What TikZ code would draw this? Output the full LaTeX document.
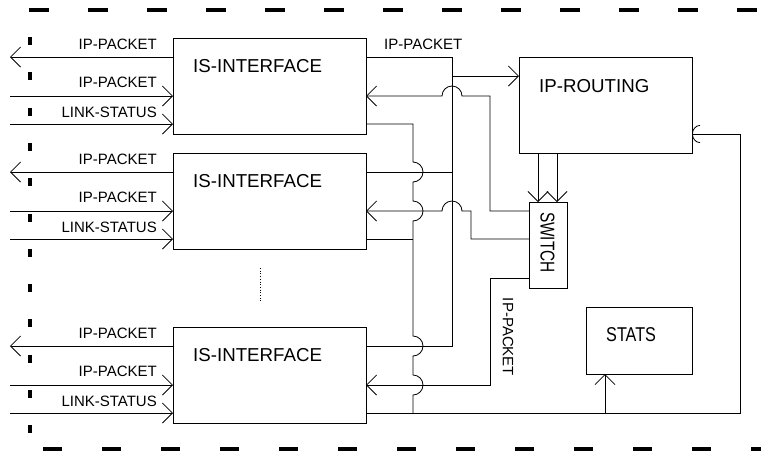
\documentclass[tikz,border=0pt]{standalone}
\usepackage{fontspec}
\usepackage{graphicx}
\setmainfont{Liberation Sans}
\usetikzlibrary{arrows.meta}
\begin{document}
\begin{tikzpicture}[x=1pt,y=-1pt,
  ln/.style={line width=0.8pt},
  arr/.style={ln,-{Straight Barb[length=10pt,width=20pt]}},
  boxn/.style={draw,line width=0.8pt,inner sep=0pt,outer sep=0pt,anchor=north west},
  small/.style={font=\fontsize{15}{18}\selectfont,inner sep=0pt},
  big/.style={font=\fontsize{18.7}{22}\selectfont,inner sep=0pt},
  huge/.style={font=\fontsize{20}{24}\selectfont,inner sep=0pt},
  frame/.style={line width=3.5pt}]
\useasboundingbox (0,0) rectangle (761,451);

% frame dashes
\draw[frame,dash pattern=on 20pt off 39pt] (29,10) -- (761,10);
\draw[frame,dash pattern=on 19pt off 40pt] (43,449) -- (761,449);
\draw[frame,dash pattern=on 8pt off 27.3pt] (30,37) -- (30,433);

% interface boxes and left connectors
\foreach \t/\n in {38/1,153/2,327/3} {
  \node[boxn,minimum width=193pt,minimum height=96pt] (if\n) at (173,\t) {};
  \node[big,anchor=base west] (ifl\n) at (193,\t+34) {IS-INTERFACE};
  \coordinate (lo\n) at (10,\t+19);
  \coordinate (li\n) at (10,\t+58);
  \coordinate (ls\n) at (10,\t+86);
  \draw[arr] (if\n.west |- lo\n) -- (lo\n);
  \draw[arr] (li\n) -- (if\n.west |- li\n);
  \draw[arr] (ls\n) -- (if\n.west |- ls\n);
  \node[small,anchor=base east] at (157,\t+11) {IP-PACKET};
  \node[small,anchor=base east] at (157,\t+49) {IP-PACKET};
  \node[small,anchor=base east] at (157,\t+79) {LINK-STATUS};
}

% other boxes
\node[boxn,minimum width=173pt,minimum height=96pt] (rt) at (519,57) {};
\node[big,anchor=base west] at (539,92) {IP-ROUTING};
\node[boxn,minimum width=38pt,minimum height=86pt] (sw) at (529,202) {};
\node[huge,rotate=-90] at (547.5,242.5) {\scalebox{0.77}[1]{SWITCH}};
\node[boxn,minimum width=106pt,minimum height=67pt] (st) at (586,307) {};
\node[huge,anchor=base west] at (606,341) {\scalebox{0.81}[1]{STATS}};

% dotted ellipsis
\draw[line width=0.7pt,dotted] (260,268) -- (260,303);

% bus of outgoing packets
\draw[ln] (366,57) -- (452,57) -- (452,346) -- (366,346);
\draw[ln] (366,172) -- (452,172);
\draw[arr] (452,76) -- (rt.west |- 0,76);
\node[small,anchor=base west] at (384,49) {IP-PACKET};

% packets from switch back to interfaces
\draw[arr] (sw.west |- 0,211) -- (490,211) -- (490,96) -- (462,96)
  arc[start angle=0,end angle=180,radius=10pt] -- (if1.east |- 0,96);
\draw[arr] (sw.west |- 0,239) -- (471,239) -- (471,211) -- (462,211)
  arc[start angle=0,end angle=180,radius=10pt] -- (if2.east |- 0,211);
\draw[arr] (sw.west |- 0,278) -- (490,278) -- (490,385) -- (if3.east |- 0,385);
\node[small,rotate=-90] at (508,337) {IP-PACKET};

% link-status bus
\draw[ln] (366,124) -- (413,124) -- (413,162)
  arc[start angle=90,end angle=-90,radius=10pt] -- (413,201)
  arc[start angle=90,end angle=-90,radius=10pt] -- (413,336)
  arc[start angle=90,end angle=-90,radius=10pt] -- (413,375)
  arc[start angle=90,end angle=-90,radius=10pt] -- (413,413);
\draw[ln] (366,239) -- (413,239);
\draw[ln,-{Arc Barb[length=8pt,width=18pt]}] (366,413) -- (740,413) -- (740,134) -- (rt.east |- 0,134);
\draw[arr] (605,413) -- (st.south -| 605,0);

% routing to switch
\draw[arr] (538,153) -- (sw.north -| 538,0);
\draw[arr] (557,153) -- (sw.north -| 557,0);
\end{tikzpicture}
\end{document}
